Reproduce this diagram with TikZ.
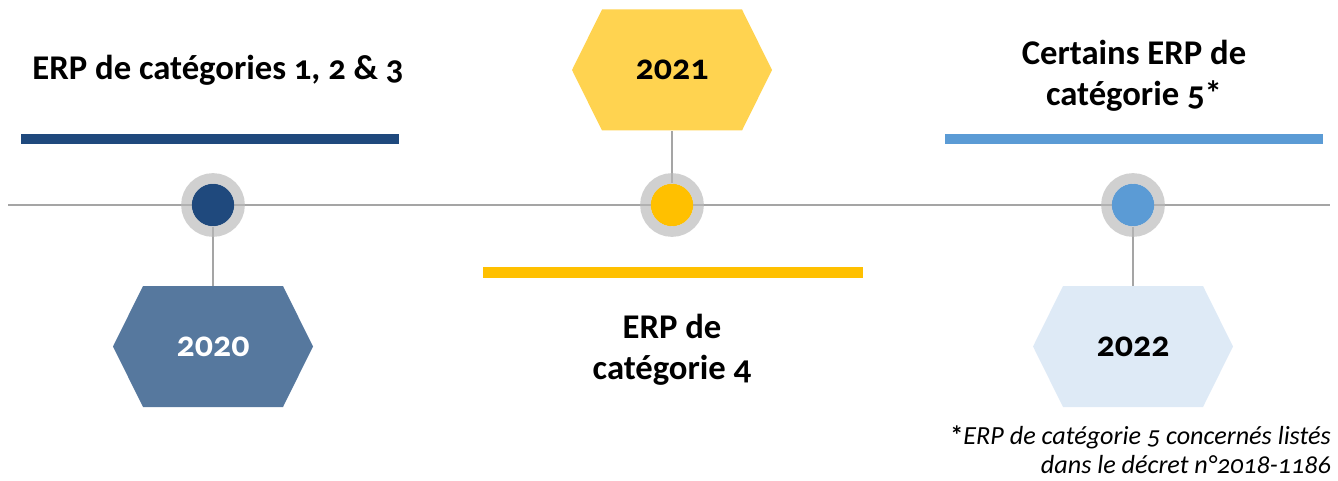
\documentclass[tikz,border=0pt]{standalone}
\usepackage{fontspec}
\setmainfont[Numbers=OldStyle]{Carlito}
\definecolor{darkblue}{HTML}{1F497D}
\definecolor{hexblue}{HTML}{56789E}
\definecolor{sunyellow}{HTML}{FFC000}
\definecolor{hexyellow}{HTML}{FFD350}
\definecolor{skyblue}{HTML}{5B9BD5}
\definecolor{hexpale}{HTML}{DEEAF6}
\definecolor{linegray}{HTML}{A5A5A5}
\definecolor{ringgray}{HTML}{B8B8B8}
\tikzset{
  x=0.75pt, y=-0.75pt,
  timeline/.style={draw=linegray, line width=2.2pt},
  stem/.style={draw=linegray, line width=1.6pt},
  dot/.style={circle, inner sep=0pt, minimum size=31.9pt},
  ring/.style={circle, inner sep=0pt, minimum size=39.9pt, draw=ringgray, draw opacity=0.66, line width=7.9pt},
  hexa/.pic={\path[pic actions] (-100,0) -- (-70,-60.5) -- (70,-60.5) -- (100,0) -- (70,60.5) -- (-70,60.5) -- cycle;},
  yeartext/.style={inner sep=0pt, minimum width=150pt, minimum height=90.75pt, font=\fontsize{27}{30}\selectfont\bfseries},
  headtext/.style={inner sep=0pt, align=center, font=\fontsize{26}{30.5}\selectfont\bfseries},
  notetext/.style={inner sep=0pt, align=right, font=\fontsize{19.6}{22}\selectfont\itshape},
}
\begin{document}
\begin{tikzpicture}
\useasboundingbox (0,0) rectangle (1338,481);
% colored bars
\fill[darkblue] (21,134) rectangle (399,144);
\fill[sunyellow] (483,267) rectangle (863,278);
\fill[skyblue] (945,134) rectangle (1323,144);
% timeline
\coordinate (tlA) at (8,205);
\coordinate (tlB) at (1330,205);
\draw[timeline] (tlA) -- (tlB);
% hexagons
\pic[fill=hexblue] at (213,346.5) {hexa};
\pic[fill=hexyellow] at (672,70) {hexa};
\pic[fill=hexpale] at (1133,346.5) {hexa};
\node[yeartext, text=white] (y20) at (213,346.5) {2020};
\node[yeartext] (y21) at (672,70) {2021};
\node[yeartext] (y22) at (1133,346.5) {2022};
% dots
\node[dot, fill=darkblue] (d20) at (213,205) {};
\node[dot, fill=sunyellow] (d21) at (672,205) {};
\node[dot, fill=skyblue] (d22) at (1133,205) {};
% stems
\draw[stem] (d20) -- (y20.north);
\draw[stem] (d21) -- (y21.south);
\draw[stem] (d22) -- (y22.north);
\node[ring] (r20) at (213,205) {};
\node[ring] (r21) at (672,205) {};
\node[ring] (r22) at (1133,205) {};
% headings
\node[headtext, anchor=base] (h1) at (218,80) {ERP de catégories 1, 2 \& 3};
\node[headtext] (h2) at (672,350) {ERP de\\catégorie 4};
\node[headtext] (h3) at (1134,76) {Certains ERP de\\catégorie 5*};
\node[notetext, anchor=east] (fn) at (1331,450) {{\upshape\bfseries *}ERP de catégorie 5 concernés listés\\dans le décret n°2018-1186};
\end{tikzpicture}
\end{document}
